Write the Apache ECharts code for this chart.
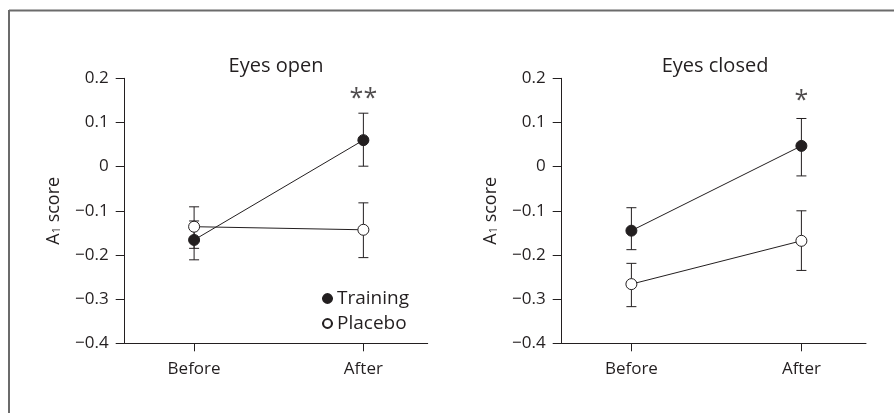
<!DOCTYPE html>
<html>
<head>
<meta charset="utf-8">
<script src="https://cdn.jsdelivr.net/npm/echarts@6/dist/echarts.min.js"></script>
<style>
  html, body { margin: 0; padding: 0; background: #fff; }
  #main { width: 894px; height: 413px; }
</style>
</head>
<body>
<div id="main"></div>
<script>
// data
var categories = ['Before', 'After'];
var yTicks = [-0.4, -0.3, -0.2, -0.1, 0, 0.1, 0.2];

// Eyes open
var openTraining = [-0.166, 0.060];
var openTrainingLow = [-0.211, 0.001];
var openTrainingHigh = [-0.123, 0.121];
var openPlacebo = [-0.136, -0.143];
var openPlaceboLow = [-0.185, -0.206];
var openPlaceboHigh = [-0.091, -0.082];

// Eyes closed
var closedTraining = [-0.145, 0.047];
var closedTrainingLow = [-0.188, -0.021];
var closedTrainingHigh = [-0.093, 0.109];
var closedPlacebo = [-0.266, -0.168];
var closedPlaceboLow = [-0.317, -0.235];
var closedPlaceboHigh = [-0.219, -0.100];

// significance marks above "After"
var sigMarks = [['**', 0.153], ['*', 0.148]];

var ink = '#231f20';
var font = 'Open Sans';

var chartDom = document.getElementById('main');
var myChart = echarts.init(chartDom);

function pts(vals) {
    return vals.map(function (v, i) { return [i, v]; });
}
function bars(low, high) {
    return low.map(function (v, i) { return [i, v, high[i]]; });
}
function errorSeries(idx, data) {
    return {
        type: 'custom',
        xAxisIndex: idx,
        yAxisIndex: idx,
        z: 1,
        silent: true,
        data: data,
        renderItem: function (params, api) {
            var lo = api.coord([api.value(0), api.value(1)]);
            var hi = api.coord([api.value(0), api.value(2)]);
            var w = 5;
            var st = { stroke: ink, lineWidth: 1 };
            return {
                type: 'group',
                children: [
                    { type: 'line', shape: { x1: lo[0], y1: lo[1], x2: hi[0], y2: hi[1] }, style: st },
                    { type: 'line', shape: { x1: lo[0] - w, y1: lo[1], x2: lo[0] + w, y2: lo[1] }, style: st },
                    { type: 'line', shape: { x1: hi[0] - w, y1: hi[1], x2: hi[0] + w, y2: hi[1] }, style: st }
                ]
            };
        }
    };
}
function lineSeries(idx, name, vals, filled) {
    return {
        name: name,
        type: 'line',
        xAxisIndex: idx,
        yAxisIndex: idx,
        z: 3,
        data: pts(vals),
        symbol: 'circle',
        symbolSize: 11,
        showAllSymbol: true,
        animation: false,
        lineStyle: { color: ink, width: 1 },
        itemStyle: {
            color: filled ? ink : '#fff',
            borderColor: ink,
            borderWidth: 1
        }
    };
}
function sigSeries(idx, mark) {
    return {
        type: 'scatter',
        xAxisIndex: idx,
        yAxisIndex: idx,
        symbolSize: 1,
        silent: true,
        itemStyle: { color: 'transparent' },
        data: [[1, mark[1]]],
        label: {
            show: true,
            position: 'inside',
            formatter: mark[0],
            fontSize: 25,
            fontFamily: font,
            color: ink
        }
    };
}

function xAxisOf(idx) {
    return {
        type: 'value',
        gridIndex: idx,
        min: -0.41,
        max: 1.38,
        splitLine: { show: false },
        axisLine: { onZero: false, lineStyle: { color: ink, width: 1 } },
        axisTick: { customValues: [0, 1], length: 8, lineStyle: { color: ink } },
        axisLabel: {
            customValues: [0, 1],
            margin: 17,
            fontSize: 17,
            fontFamily: font,
            color: ink,
            formatter: function (v) { return categories[Math.round(v)]; }
        }
    };
}
function yAxisOf(idx) {
    return {
        type: 'value',
        gridIndex: idx,
        min: yTicks[0],
        max: yTicks[yTicks.length - 1],
        interval: 0.1,
        splitLine: { show: false },
        axisLine: { show: true, onZero: false, lineStyle: { color: ink, width: 1 } },
        axisTick: { show: true, length: 9, lineStyle: { color: ink } },
        axisLabel: {
            margin: 16,
            fontSize: 17,
            fontFamily: font,
            color: ink,
            formatter: function (v) {
                var r = Math.round(v * 10) / 10;
                if (r === 0) return '0';
                return r < 0 ? '\u2212' + Math.abs(r).toFixed(1) : r.toFixed(1);
            }
        },
        name: 'A{sub|1} score',
        nameLocation: 'middle',
        nameGap: 62,
        nameRotate: 90,
        nameTextStyle: {
            fontSize: 18,
            fontFamily: font,
            color: ink,
            rich: {
                sub: { fontSize: 11, fontFamily: font, color: ink, verticalAlign: 'bottom', padding: [7, 0, 0, 0] }
            }
        }
    };
}

var option = {
    backgroundColor: '#fff',
    animation: false,
    title: [
        { text: 'Eyes open', left: 271, top: 51, textAlign: 'center',
          textStyle: { fontSize: 20, fontWeight: 'normal', fontFamily: font, color: ink } },
        { text: 'Eyes closed', left: 710, top: 51, textAlign: 'center',
          textStyle: { fontSize: 20, fontWeight: 'normal', fontFamily: font, color: ink } }
    ],
    legend: {
        orient: 'vertical',
        left: 316,
        top: 284,
        itemWidth: 11,
        itemHeight: 11,
        itemGap: 6,
        data: ['Training', 'Placebo'],
        textStyle: { fontSize: 19, fontFamily: font, color: ink, padding: [0, 0, 0, -1] }
    },
    grid: [
        { left: 124.7, top: 78.3, width: 303, height: 265 },
        { left: 561.7, top: 78.3, width: 304.3, height: 265 }
    ],
    xAxis: [xAxisOf(0), xAxisOf(1)],
    yAxis: [yAxisOf(0), yAxisOf(1)],
    graphic: [
        { type: 'line', shape: { x1: 9, y1: 10.5, x2: 894, y2: 10.5 }, style: { stroke: '#6b6b6b', lineWidth: 2 } },
        { type: 'line', shape: { x1: 9, y1: 10, x2: 9, y2: 413 }, style: { stroke: '#6b6b6b', lineWidth: 2 } }
    ],
    series: [
        errorSeries(0, bars(openTrainingLow, openTrainingHigh)),
        errorSeries(0, bars(openPlaceboLow, openPlaceboHigh)),
        lineSeries(0, 'Placebo', openPlacebo, false),
        lineSeries(0, 'Training', openTraining, true),
        sigSeries(0, sigMarks[0]),
        errorSeries(1, bars(closedTrainingLow, closedTrainingHigh)),
        errorSeries(1, bars(closedPlaceboLow, closedPlaceboHigh)),
        lineSeries(1, 'Training', closedTraining, true),
        lineSeries(1, 'Placebo', closedPlacebo, false),
        sigSeries(1, sigMarks[1])
    ]
};

option && myChart.setOption(option);
window.onresize = function () {
    myChart.resize();
};
</script>
</body>
</html>
